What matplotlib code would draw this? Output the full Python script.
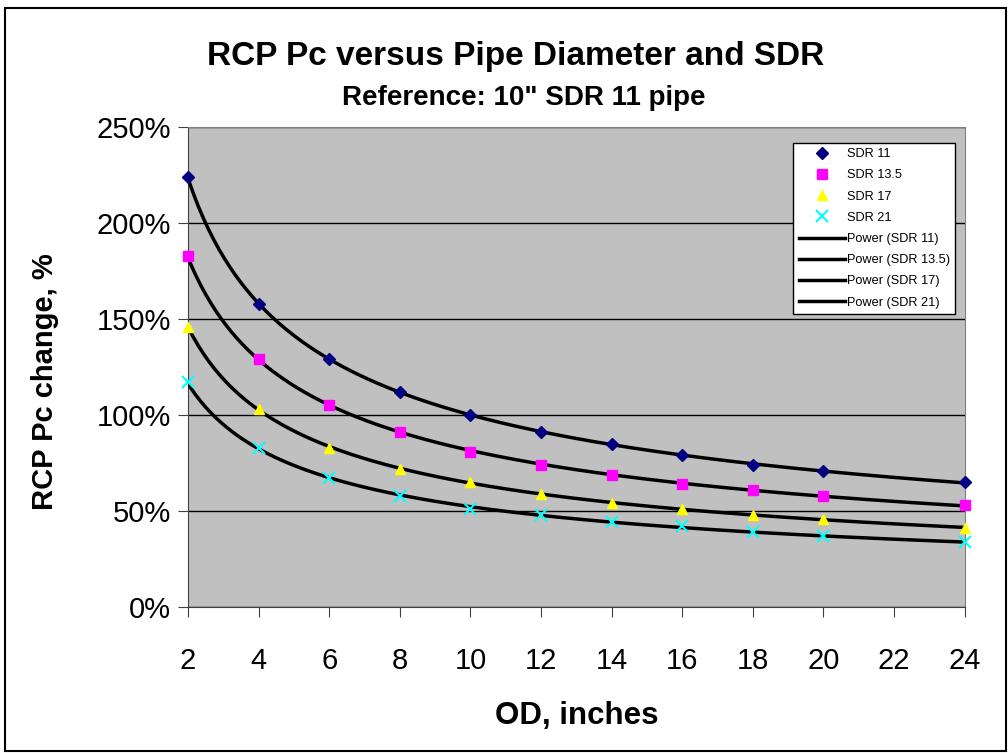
import numpy as np
import matplotlib.pyplot as plt
from matplotlib.ticker import PercentFormatter

# datos (OD en pulgadas, cambio en %)
od = [2, 4, 6, 8, 10, 12, 14, 16, 18, 20, 24]
sdr11 = [224, 158, 129, 112, 100, 91, 85, 79, 74, 71, 65]
sdr135 = [183, 129, 105, 91, 81, 74, 69, 64, 61, 58, 53]
sdr17 = [146, 103, 83, 72, 65, 59, 54, 51, 48, 46, 41]
sdr21 = [117, 83, 67, 58, 51, 48, 44, 42, 39, 37, 34]

nombres = ["SDR 11", "SDR 13.5", "SDR 17", "SDR 21"]
series = [sdr11, sdr135, sdr17, sdr21]
marcadores = ["D", "s", "^", "x"]
colores = ["#000080", "#FF00FF", "#FFFF00", "#00FFFF"]

plt.rcParams['font.family'] = ['Liberation Sans', 'DejaVu Sans']

fig = plt.figure(figsize=(10.08, 7.53), dpi=100)
# marco negro alrededor de todo
fig.patches.append(plt.Rectangle((0.005, 0.002), 0.993, 0.987, transform=fig.transFigure,
                                 fill=False, edgecolor="black", linewidth=1.5))
ax = fig.add_axes([0.1865, 0.194, 0.7705, 0.637])
ax.set_facecolor("#C0C0C0")

puntos = []
for nombre, y, m, c in zip(nombres, series, marcadores, colores):
    if m == "x":
        h, = ax.plot(od, y, linestyle="none", marker=m, color=c, markersize=8, mew=1.5,
                     label=nombre, zorder=4, clip_on=False)
    else:
        h, = ax.plot(od, y, linestyle="none", marker=m, markerfacecolor=c, markeredgecolor=c,
                     markersize=7 if m != "D" else 6.5, label=nombre, zorder=4, clip_on=False)
    puntos.append(h)

# lineas de tendencia tipo potencia (como Excel)
xs = np.linspace(2, 24, 300)
tendencias = []
for nombre, y in zip(nombres, series):
    b, loga = np.polyfit(np.log(od), np.log(y), 1)
    h, = ax.plot(xs, np.exp(loga) * xs ** b, color="black", linewidth=2.5,
                 label="Power (" + nombre + ")", zorder=3)
    tendencias.append(h)

ax.set_xlim(2, 24)
ax.set_ylim(0, 250)
ax.set_xticks(range(2, 25, 2))
ax.set_yticks(range(0, 251, 50))
ax.yaxis.set_major_formatter(PercentFormatter(decimals=0))
ax.grid(axis="y", color="black", linewidth=1)
ax.set_axisbelow(True)
ax.tick_params(labelsize=21, direction="out", length=7, color="#404040")
ax.tick_params(axis="x", pad=22)
ax.tick_params(axis="y", pad=5)
for lado in ["top", "right"]:
    ax.spines[lado].set_color("#808080")
for lado in ["left", "bottom"]:
    ax.spines[lado].set_color("#404040")

ax.set_xlabel("OD, inches", fontsize=22.5, fontweight="bold", va="center")
ax.set_ylabel("RCP Pc change, %", fontsize=21, fontweight="bold", va="center")
ax.xaxis.set_label_coords(0.5, -0.228)
ax.yaxis.set_label_coords(-0.184, 0.469)

fig.text(0.512, 0.925, "RCP Pc versus Pipe Diameter and SDR", ha="center", va="center",
         fontsize=24, fontweight="bold")
fig.text(0.52, 0.870, 'Reference: 10" SDR 11 pipe', ha="center", va="center",
         fontsize=20, fontweight="bold")

leg = ax.legend(handles=puntos + tendencias, loc="upper right", bbox_to_anchor=(0.988, 0.967),
                borderaxespad=0, fontsize=9.2, frameon=True, fancybox=False, edgecolor="black",
                borderpad=0.4, labelspacing=0.72, handlelength=3.6, handletextpad=0.2)
leg.get_frame().set_facecolor("white")
leg.get_frame().set_alpha(1)

fig.savefig("out.png", dpi=100)
